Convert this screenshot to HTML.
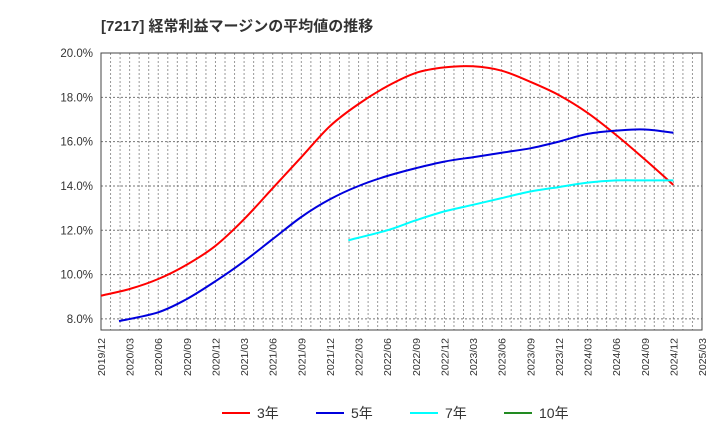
<!DOCTYPE html>
<html><head><meta charset="utf-8"><style>
body{margin:0;background:#fff;}
svg{display:block;font-family:"Liberation Sans","Noto Sans CJK JP",sans-serif;}
</style></head><body>
<svg id="c" width="720" height="440">
<text x="101" y="31" font-size="15" font-weight="bold" fill="#333">[7217]  経常利益マージンの平均値の推移</text>
</svg>
<script>
const xLabels=["2019/12","2020/03","2020/06","2020/09","2020/12","2021/03","2021/06","2021/09","2021/12","2022/03","2022/06","2022/09","2022/12","2023/03","2023/06","2023/09","2023/12","2024/03","2024/06","2024/09","2024/12","2025/03"];
const yTicks=[8,10,12,14,16,18,20];
const s3=[9.05,9.35,9.8,10.45,11.3,12.5,13.9,15.3,16.7,17.7,18.5,19.1,19.35,19.4,19.2,18.7,18.1,17.3,16.3,15.2,14.05];
const s5=[null,7.9,8.3,8.9,9.7,10.6,11.6,12.6,13.4,14.0,14.45,14.8,15.1,15.3,15.5,15.7,16.0,16.35,16.5,16.55,16.4];
const s7=[null,null,null,null,null,null,null,null,null,11.55,12.0,12.45,12.85,13.15,13.45,13.75,13.95,14.15,14.25,14.25,14.25];
const s10=[];
const firstOffset5=-0.37, firstOffset7=-0.36;
const L=101,R=702,T=53,B=330,yMin=7.5,yMax=20;
const NS="http://www.w3.org/2000/svg",svg=document.getElementById('c');
const xq=i=>L+i*(R-L)/(xLabels.length-1);
const y=v=>B-(v-yMin)/(yMax-yMin)*(B-T);
function mk(t,a){const e=document.createElementNS(NS,t);for(const k in a)e.setAttribute(k,a[k]);svg.appendChild(e);return e;}
const months=(xLabels.length-1)*3;
for(let m=1;m<months;m++){const x=L+m*(R-L)/months;
const g=mk('line',{x1:x,x2:x,y1:T,y2:B,stroke:'#999','stroke-dasharray':'2,2','stroke-width':1});

}
yTicks.forEach(v=>{const g=mk('line',{x1:L,x2:R,y1:y(v),y2:y(v),stroke:'#777','stroke-dasharray':'2,2','stroke-width':1});


const t=mk('text',{x:L-8,y:y(v)+4,'text-anchor':'end','font-size':11.5,fill:'#333'});t.textContent=v.toFixed(1)+'%';

});
const f=mk('rect',{x:L,y:T,width:R-L,height:B-T,fill:'none',stroke:'#444','stroke-width':1});


xLabels.forEach((l,i)=>{const x=xq(i);const t=mk('text',{x:x+4,y:B+8,'text-anchor':'end','font-size':10.5,fill:'#333',transform:`rotate(-90 ${x+4} ${B+8})`});t.textContent=l;

});
function line(data,color,name,off){const pts=[];let first=true;data.forEach((v,i)=>{if(v==null)return;pts.push([xq(first?i+(off||0):i),y(v)]);first=false;});
if(pts.length<2)return;
let d='M'+pts[0][0].toFixed(1)+','+pts[0][1].toFixed(1);
for(let i=0;i<pts.length-1;i++){const p0=pts[Math.max(0,i-1)],p1=pts[i],p2=pts[i+1],p3=pts[Math.min(pts.length-1,i+2)];
const c1x=p1[0]+(p2[0]-p0[0])/6,c1y=p1[1]+(p2[1]-p0[1])/6,c2x=p2[0]-(p3[0]-p1[0])/6,c2y=p2[1]-(p3[1]-p1[1])/6;
d+=`C${c1x.toFixed(1)},${c1y.toFixed(1)} ${c2x.toFixed(1)},${c2y.toFixed(1)} ${p2[0].toFixed(1)},${p2[1].toFixed(1)}`;}
const p=mk('path',{d:d,fill:'none',stroke:color,'stroke-width':2,'stroke-linejoin':'round'});

}
line(s3,'#ff0000','series-3yr',0);line(s5,'#0000dd','series-5yr',firstOffset5);line(s7,'#00ffff','series-7yr',firstOffset7);line(s10,'#228b22','series-10yr',0);
const leg=[['3年','#ff0000',222],['5年','#0000dd',316],['7年','#00ffff',410],['10年','#228b22',504]];
leg.forEach(([n,c,x])=>{const l=mk('line',{x1:x,x2:x+28,y1:413,y2:413,stroke:c,'stroke-width':2});


const t=mk('text',{x:x+35,y:418,'font-size':14,fill:'#333'});t.textContent=n;

});
</script>
</body></html>
